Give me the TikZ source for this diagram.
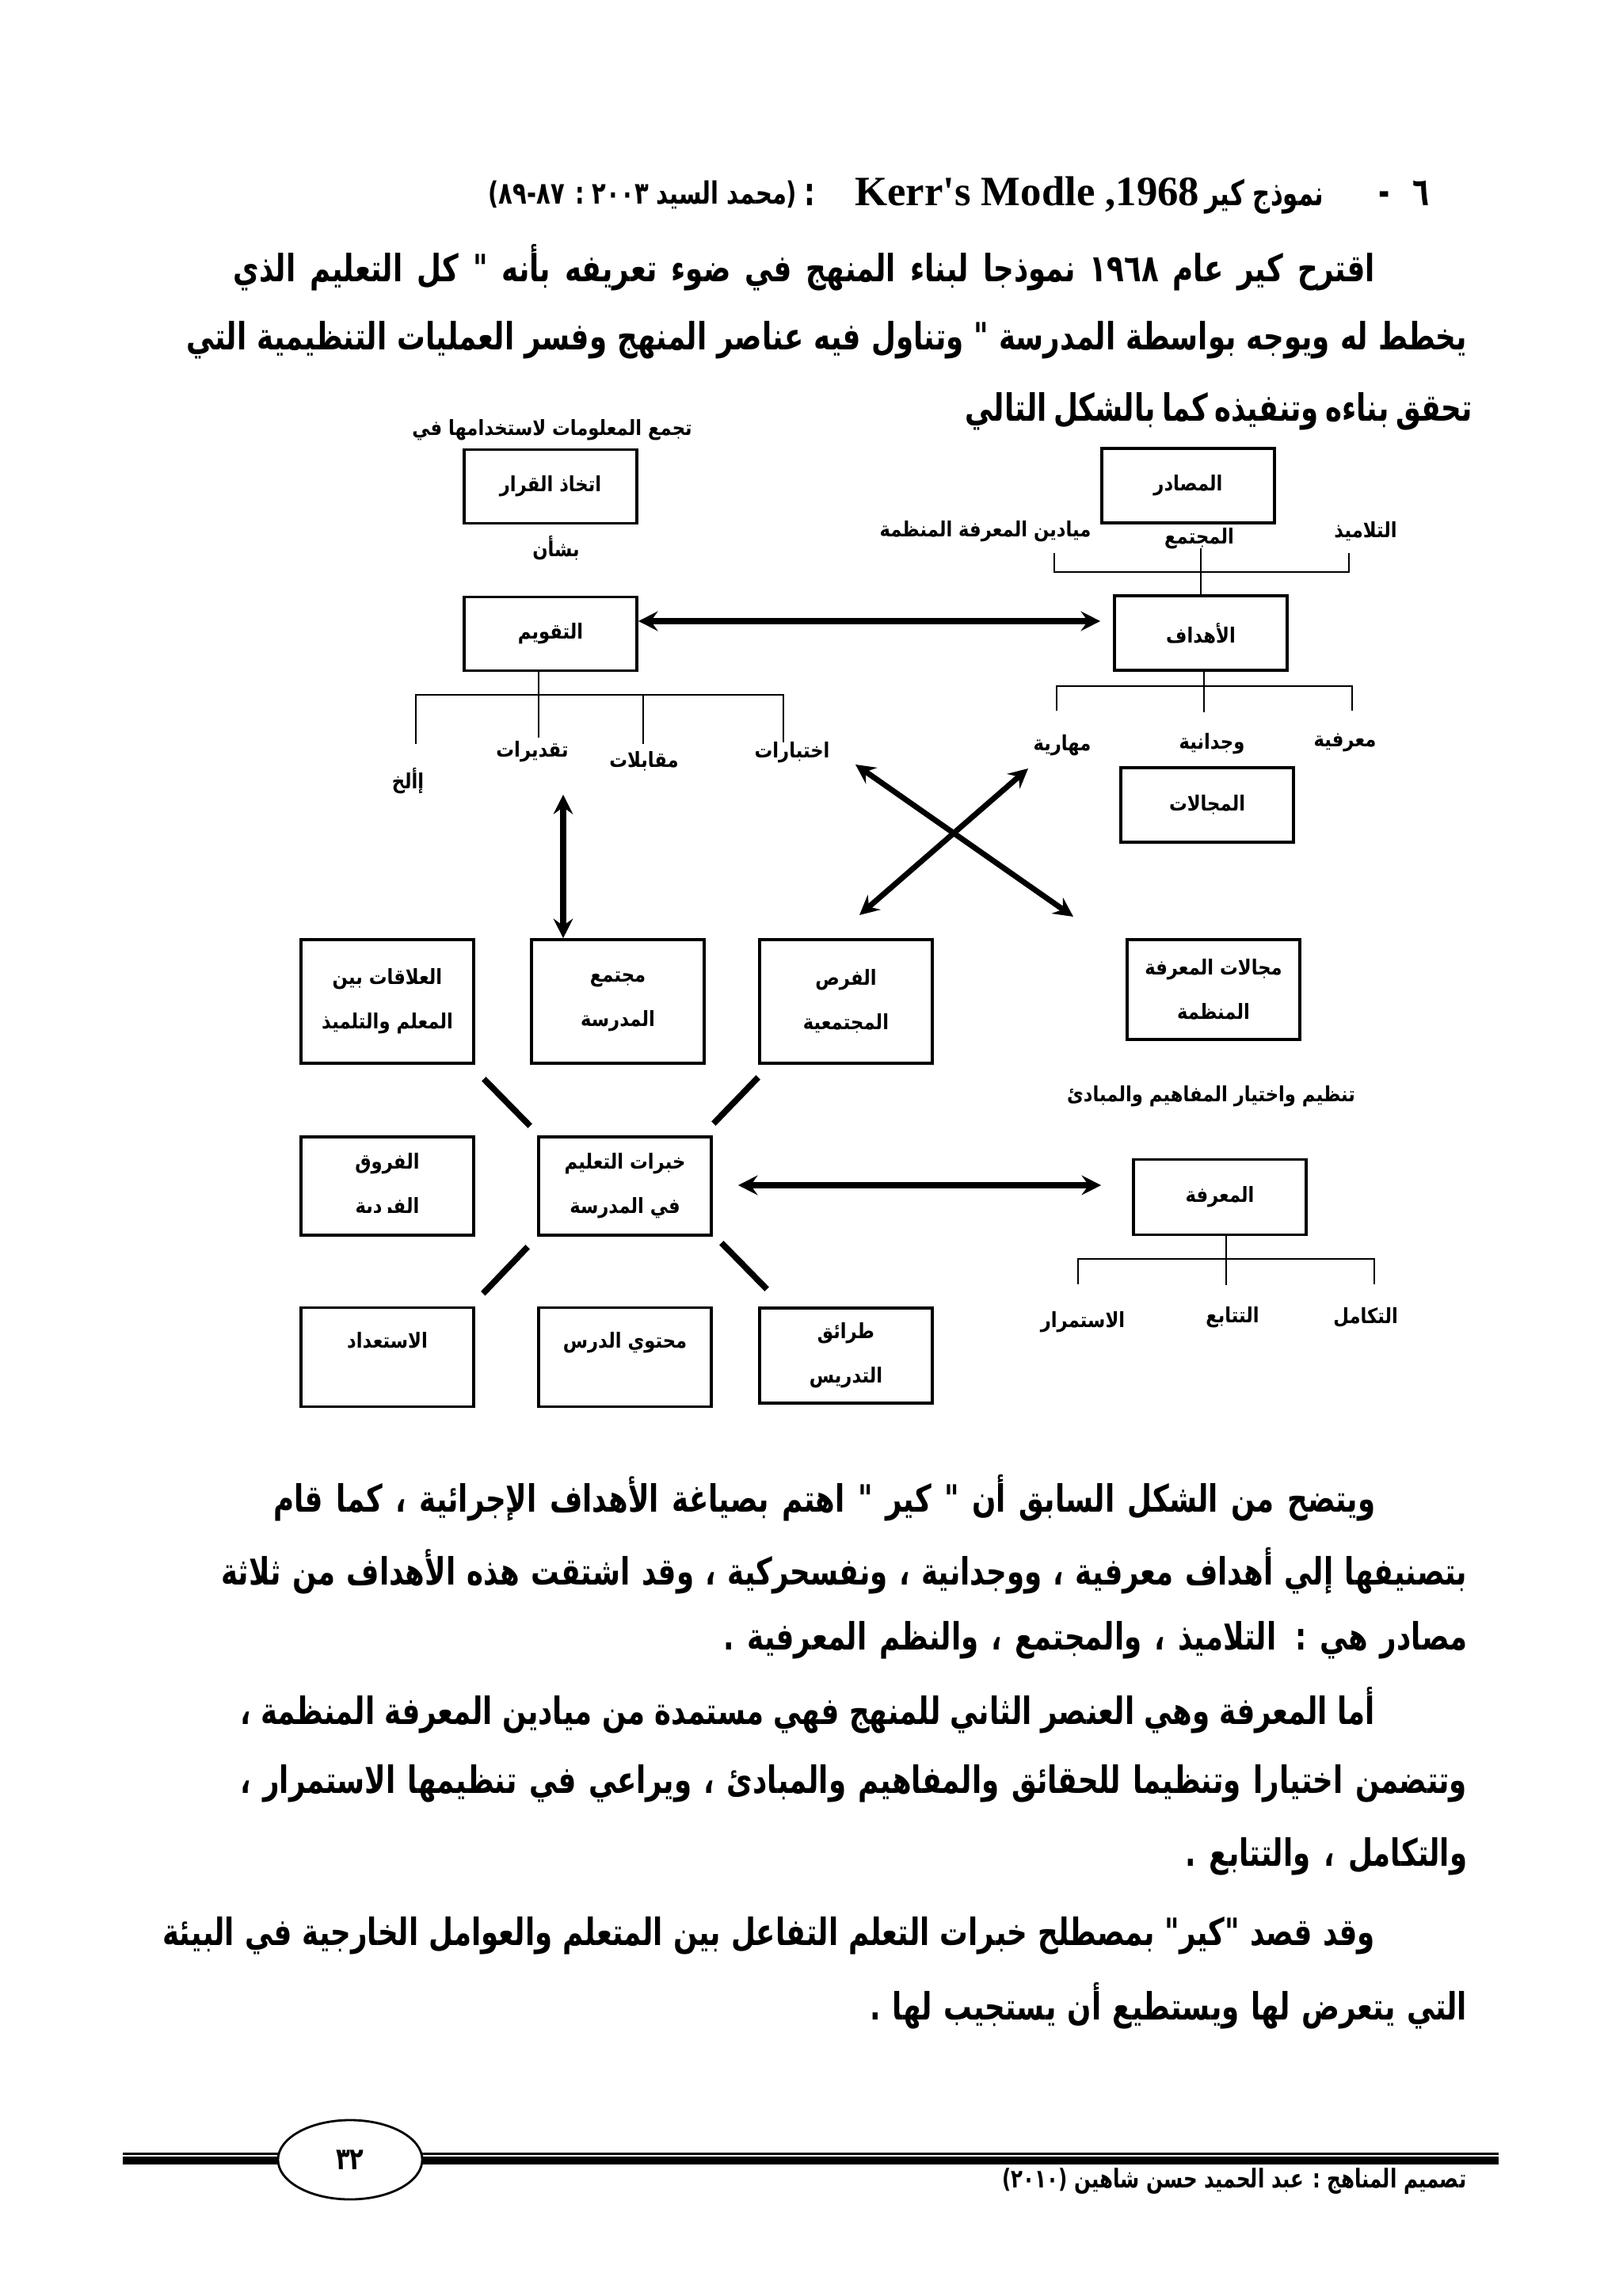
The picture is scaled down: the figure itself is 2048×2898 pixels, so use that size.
\documentclass[tikz,border=0pt]{standalone}
\usepackage{fontspec}
\usetikzlibrary{arrows.meta,calc,shapes.geometric}
\TeXXeTstate=1
\newfontfamily\labelfamily[Script=Arabic,FakeStretch=0.86]{DejaVu Sans}
\newfontfamily\bodyfont[Script=Arabic,FakeStretch=0.75]{DejaVu Sans}
\newfontfamily\headfamily[Script=Arabic,FakeStretch=0.7]{DejaVu Sans}
\newfontfamily\latinfont{Liberation Serif}
\newcommand{\artext}[1]{\beginR #1\endR}
\newcommand{\jline}[2]{\makebox[#1][s]{\beginR #2\endR}}
\newcommand{\labelfont}{\labelfamily\bfseries\fontsize{7.5}{16}\selectfont}
\newcommand{\bodytext}{\bodyfont\bfseries\fontsize{13.5}{16}\selectfont}
\newcommand{\headfont}{\headfamily\bfseries\fontsize{14}{18}\selectfont}
\tikzset{
	box/.style={draw, line width=1pt, minimum width=2.18cm, align=center, inner sep=0pt, font=\labelfont},
	lbl/.style={inner sep=0pt, font=\labelfont},
	bodyline/.style={anchor=east, inner sep=0pt, font=\bodytext},
	treeline/.style={line width=0.6pt},
	dblarrow/.style={{Stealth[length=7pt,width=7pt,inset=2.5pt]}-{Stealth[length=7pt,width=7pt,inset=2.5pt]}, line width=2pt},
	spoke/.style={line width=2.2pt}
}
\begin{document}
\begin{tikzpicture}[x=0.01cm,y=-0.01cm]
	\useasboundingbox (0,0) rectangle (2048,2898);
	\fill[white] (0,0) rectangle (2048,2898);
	% Heading
	\node[anchor=base east, inner sep=0pt, font=\headfont] (hnum) at (1805,260) {\artext{٦}};
	\node[anchor=base east, inner sep=0pt, font=\headfont] (hdash) at (1755,260) {-};
	\node[anchor=base east, inner sep=0pt, font=\headfamily\bfseries\fontsize{12.5}{18}\selectfont] (htitle) at (1672,260) {\artext{نموذج كير}};
	\node[anchor=base east, inner sep=0pt, font=\latinfont\bfseries\fontsize{15}{18}\selectfont] (hlatin) at (1515,260) {Kerr's Modle ,1968};
	\node[anchor=base east, inner sep=0pt, font=\headfont] (hcolon) at (1030,260) {:};
	\node[anchor=base east, inner sep=0pt, font=\bodyfont\bfseries\fontsize{11}{12}\selectfont] (hsrc) at (1007,258) {\artext{(محمد السيد ٢٠٠٣ : ٨٧-٨٩)}};
	% First paragraph
	\node[bodyline] (p1a) at (1737,338) {\jline{14.41cm}{اقترح كير عام ١٩٦٨ نموذجا لبناء المنهج في ضوء تعريفه بأنه " كل التعليم الذي}};
	\node[bodyline] (p1b) at (1853,429) {\jline{16.16cm}{يخطط له ويوجه بواسطة المدرسة " وتناول فيه عناصر المنهج وفسر العمليات التنظيمية التي}};
	\node[bodyline] (p1c) at (1853,519) {\jline{6.33cm}{تحقق بناءه وتنفيذه كما بالشكل التالي}};
	% Evaluation side
	\node[lbl] (gather) at (697,543) {\artext{تجمع المعلومات لاستخدامها في}};
	\node[box, minimum height=0.93cm] (qarar) at (695,614) {\artext{اتخاذ القرار}};
	\node[lbl] (shaan) at (702,692) {\artext{بشأن}};
	\node[box, minimum height=0.93cm] (taqweem) at (695,800) {\artext{التقويم}};
	\node[lbl] (ilakh) at (515,986) {\artext{إألخ}};
	\node[lbl] (taqdirat) at (672,949) {\artext{تقديرات}};
	\node[lbl] (muqabalat) at (813,961) {\artext{مقابلات}};
	\node[lbl] (ikhtibarat) at (1000,950) {\artext{اختبارات}};
	\draw[treeline] ($(taqweem.south)+(-15,0)$) -- ++(0,83);
	\draw[treeline] (525,939) -- (525,877) -- (989,877) -- (989,937);
	\draw[treeline] (812,877) -- (812,939);
	% Objectives side
	\node[box, minimum height=0.94cm] (masadir) at (1500,613) {\artext{المصادر}};
	\node[lbl] (mayadin) at (1244,671) {\artext{ميادين المعرفة المنظمة}};
	\node[lbl] (mujtama) at (1514,680) {\artext{المجتمع}};
	\node[lbl] (talamidh) at (1724,671) {\artext{التلاميذ}};
	\node[box, minimum height=0.94cm] (ahdaf) at (1516,799) {\artext{الأهداف}};
	\draw[treeline] (1331,698) -- (1331,722) -- (1703,722) -- (1703,698);
	\draw[treeline] (1516,692) -- (ahdaf.north -| 1516,0);
	\draw[treeline] ($(ahdaf.south)+(4,0)$) -- ++(0,51);
	\draw[treeline] (1334,897) -- (1334,866) -- (1707,866) -- (1707,897);
	\node[lbl] (maharia) at (1341,941) {\artext{مهارية}};
	\node[lbl] (wijdania) at (1530,939) {\artext{وجدانية}};
	\node[lbl] (marifia) at (1698,937) {\artext{معرفية}};
	\node[box, minimum height=0.94cm] (majalat) at (1524,1016) {\artext{المجالات}};
	\draw[dblarrow] ($(taqweem.east)+(0,-16)$) -- ($(ahdaf.west)+(-16,-15)$);
	% Crossed arrows
	\coordinate (xa1) at (1080,965);
	\coordinate (xa2) at (1355,1157);
	\coordinate (xb1) at (1298,970);
	\coordinate (xb2) at (1085,1155);
	\draw[dblarrow] (xa1) -- (xa2);
	\draw[dblarrow] (xb1) -- (xb2);
	% Learning experiences
	\node[box, minimum height=1.56cm] (alaqat) at (489,1264) {\artext{العلاقات بين}\\\artext{المعلم والتلميذ}};
	\node[box, minimum height=1.56cm] (mujtamaa) at (780,1264) {\artext{مجتمع}\\\artext{المدرسة}};
	\node[box, minimum height=1.56cm] (forsa) at (1068,1264) {\artext{الفرص}\\\artext{المجتمعية}};
	\coordinate (vtop) at (711,1003);
	\draw[dblarrow] (vtop) -- (vtop |- mujtamaa.north);
	\node[box, minimum height=1.24cm] (furuq) at (489,1497) {\artext{الفروق}\\\artext{الفردية}};
	\fill[white] ($(furuq.south west)+(8,-30)$) rectangle ($(furuq.south east)+(-8,-4)$);
	\node[box, minimum height=1.24cm] (khibrat) at (789,1497) {\artext{خبرات التعليم}\\\artext{في المدرسة}};
	\node[box, minimum height=1.25cm, text depth=12pt] (istidad) at (489,1713) {\artext{الاستعداد}};
	\node[box, minimum height=1.25cm, text depth=12pt] (muhtawa) at (789,1713) {\artext{محتوي الدرس}};
	\node[box, minimum height=1.20cm] (taraiq) at (1068,1711) {\artext{طرائق}\\\artext{التدريس}};
	\draw[spoke] ($(alaqat.south east)+(11,18)$) -- ($(khibrat.north west)+(-9,-12)$);
	\draw[spoke] ($(forsa.south west)+(0,16)$) -- ($(khibrat.north east)+(1,-15)$);
	\draw[spoke] ($(istidad.north east)+(10,-16)$) -- ($(khibrat.south west)+(-12,13)$);
	\draw[spoke] ($(taraiq.north west)+(11,-22)$) -- ($(khibrat.south east)+(11,8)$);
	% Knowledge side
	\node[box, minimum height=1.26cm] (ilmfields) at (1532,1249) {\artext{مجالات المعرفة}\\\artext{المنظمة}};
	\node[lbl] (tanzeem) at (1529,1384) {\artext{تنظيم واختيار المفاهيم والمبادئ}};
	\node[box, minimum height=0.95cm] (marifa) at (1540,1511) {\artext{المعرفة}};
	\draw[dblarrow] ($(khibrat.east)+(32,-1)$) -- ($(marifa.west)+(-39,-15)$);
	\draw[treeline] ($(marifa.south)+(8,0)$) -- ++(0,62);
	\draw[treeline] (1361,1621) -- (1361,1589) -- (1735,1589) -- (1735,1621);
	\node[lbl] (istimrar) at (1367,1669) {\artext{الاستمرار}};
	\node[lbl] (tatabu) at (1556,1663) {\artext{التتابع}};
	\node[lbl] (takamul) at (1724,1663) {\artext{التكامل}};
	% Text after the figure
	\node[bodyline] (p2a) at (1737,1891) {\jline{13.90cm}{ويتضح من الشكل السابق أن " كير " اهتم بصياغة الأهداف الإجرائية ، كما قام}};
	\node[bodyline] (p2b) at (1853,1983) {\jline{15.72cm}{بتصنيفها إلي أهداف معرفية ، ووجدانية ، ونفسحركية ، وقد اشتقت هذه الأهداف من ثلاثة}};
	\node[bodyline] (p2c) at (1853,2070) {\jline{9.38cm}{مصادر هي : التلاميذ ، والمجتمع ، والنظم المعرفية .}};
	\node[bodyline] (p3a) at (1737,2159) {\jline{14.32cm}{أما المعرفة وهي العنصر الثاني للمنهج فهي مستمدة من ميادين المعرفة المنظمة ،}};
	\node[bodyline] (p3b) at (1853,2251) {\jline{15.48cm}{وتتضمن اختيارا وتنظيما للحقائق والمفاهيم والمبادئ ، ويراعي في تنظيمها الاستمرار ،}};
	\node[bodyline] (p3c) at (1853,2343) {\jline{3.56cm}{والتكامل ، والتتابع .}};
	\node[bodyline] (p4a) at (1737,2443) {\jline{15.30cm}{وقد قصد "كير" بمصطلح خبرات التعلم التفاعل بين المتعلم والعوامل الخارجية في البيئة}};
	\node[bodyline] (p4b) at (1853,2532) {\jline{7.53cm}{التي يتعرض لها ويستطيع أن يستجيب لها .}};
	% Footer
	\fill (155,2716.5) rectangle (1892,2719.5);
	\fill (155,2722) rectangle (1892,2732);
	\node[ellipse, draw, fill=white, line width=0.8pt, minimum width=1.82cm, minimum height=1.0cm, inner sep=0pt, font=\bodyfont\bfseries\fontsize{11}{13}\selectfont] (pagenum) at (442,2726) {\artext{٣٢}};
	\node[anchor=east, inner sep=0pt, font=\bodyfont\bfseries\fontsize{9.3}{11}\selectfont] (footer) at (1852,2753) {\artext{تصميم المناهج : عبد الحميد حسن شاهين (٢٠١٠)}};
\end{tikzpicture}
\end{document}
